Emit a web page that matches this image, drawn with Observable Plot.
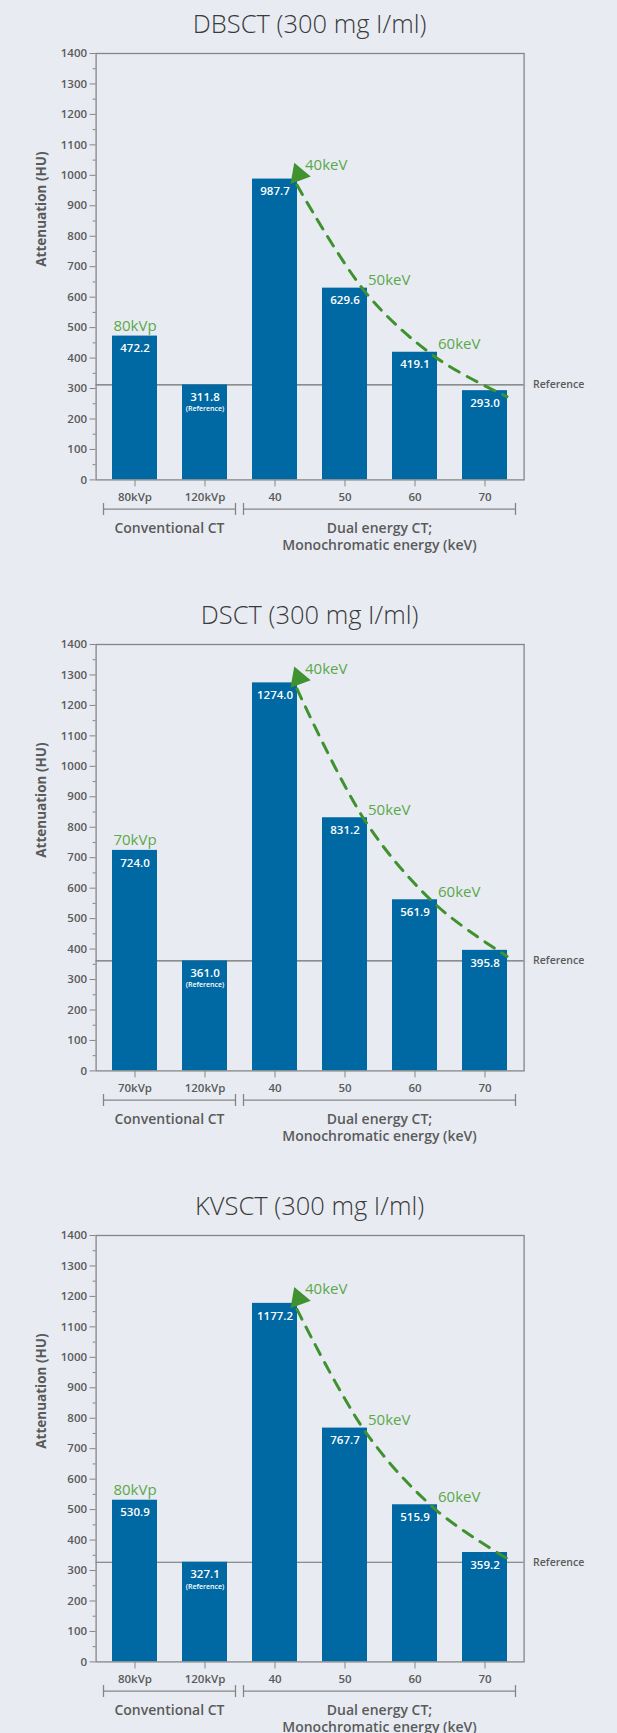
<!DOCTYPE html>
<html>
<head>
<meta charset="utf-8">
<script src="https://cdn.jsdelivr.net/npm/d3@7"></script>
<script src="https://cdn.jsdelivr.net/npm/@observablehq/plot@0.6"></script>
<style>
  html, body { margin: 0; padding: 0; background: #e8ecf2; }
  body { width: 617px; font-family: "Open Sans", "DejaVu Sans", sans-serif; }
  .chart { height: 591px; position: relative; }
  .chart h2 {
    margin: 0 0 0 95.6px; width: 428px; height: 40px; line-height: 46px;
    text-align: center; white-space: nowrap; overflow: visible;
    font-size: 25.5px; font-weight: 300; color: #3a3a3a;
  }
  .chart svg { display: block; }
</style>
</head>
<body>
<div id="charts"></div>
<script>
// Scanner comparison: iodine 300 mg I/ml, attenuation in HU
const titles = ["DBSCT (300 mg I/ml)", "DSCT (300 mg I/ml)", "KVSCT (300 mg I/ml)"];
const lowKvp = ["80kVp", "70kVp", "80kVp"];
const refKvp = "120kVp";
const conventionalValues = [
  [472.2, 311.8],
  [724.0, 361.0],
  [530.9, 327.1]
];
const keVLevels = ["40", "50", "60", "70"];
const keVValues = [
  [987.7, 629.6, 419.1, 293.0],
  [1274.0, 831.2, 561.9, 395.8],
  [1177.2, 767.7, 515.9, 359.2]
];
const yTicks = [0, 100, 200, 300, 400, 500, 600, 700, 800, 900, 1000, 1100, 1200, 1300, 1400];
const yMinorTicks = yTicks.slice(0, -1).map(v => v + 50);
const groupLabels = [["Conventional CT"], ["Dual energy CT;", "Monochromatic energy (keV)"]];
const yLabel = "Attenuation (HU)";
const refLabel = "Reference";

const BLUE = "#0068a2";
const GREEN_LINE = "#3f922f";
const GREEN_TEXT = "#5aa84a";
const GRAY = "#5a5a5a";
const AXIS = "#858585";

function drawChart(k) {
  const conv = [lowKvp[k], refKvp];
  const cats = [...conv, ...keVLevels];
  const rows = cats.map((c, i) => ({cat: c, value: i < 2 ? conventionalValues[k][i] : keVValues[k][i - 2]}));
  const keVRows = rows.slice(2);
  const refRow = rows[1];
  const groups = [{cats: conv, label: groupLabels[0]}, {cats: keVLevels, label: groupLabels[1]}];

  // group brackets under the x axis, placed from the band scale
  const brackets = (index, scales, values, dimensions) => {
    const xs = scales.x;
    const bw = typeof xs.bandwidth === "function" ? xs.bandwidth() : 0;
    const cx = c => xs(c) + bw / 2;
    const step = cx(cats[1]) - cx(cats[0]);
    const half = step / 2 - 4;
    const y0 = dimensions.height - dimensions.marginBottom;
    const g = d3.create("svg:g");
    for (const grp of groups) {
      const a = cx(grp.cats[0]) - half;
      const b = cx(grp.cats[grp.cats.length - 1]) + half;
      const yb = y0 + 29.7;
      g.append("path")
        .attr("d", `M${a},${yb - 6}V${yb + 6}M${a},${yb}H${b}M${b},${yb - 6}V${yb + 6}`)
        .attr("fill", "none").attr("stroke", AXIS).attr("stroke-width", 1.3);
      const mid = (cx(grp.cats[0]) + cx(grp.cats[grp.cats.length - 1])) / 2;
      grp.label.forEach((t, i) => {
        g.append("text")
          .attr("x", mid).attr("y", yb + 18.5 + i * 17)
          .attr("dy", "0.35em")
          .attr("text-anchor", "middle")
          .attr("fill", GRAY)
          .attr("font-size", 14).attr("font-weight", 600)
          .text(t);
      });
    }
    return g.node();
  };

  const plot = Plot.plot({
    width: 617,
    height: 520,
    marginTop: 13,
    marginBottom: 80.6,
    marginLeft: 95.6,
    marginRight: 93.4,
    style: {fontFamily: "'Open Sans', sans-serif", fontSize: "11px", fontWeight: 600, color: GRAY, background: "transparent", overflow: "visible"},
    x: {type: "band", domain: cats, paddingInner: 0.36, paddingOuter: 0.22, label: null},
    y: {domain: [0, 1400], label: null},
    marks: [
      Plot.ruleY([refRow.value], {stroke: "#6e6e6e", strokeWidth: 1.2}),
      Plot.barY(rows, {x: "cat", y: "value", fill: BLUE}),
      Plot.frame({stroke: AXIS, strokeWidth: 1.3}),
      Plot.axisY({ticks: yMinorTicks, tickSize: 3, tickFormat: () => "", stroke: AXIS}),
      Plot.axisY({ticks: yTicks, tickSize: 6, tickPadding: 3, tickFormat: d => String(d), stroke: AXIS, fill: GRAY, fontSize: 11.5, label: null}),
      Plot.axisX({tickSize: 7, tickPadding: 6, stroke: AXIS, fill: GRAY, fontSize: 11.5, label: null}),
      Plot.text([yLabel], {frameAnchor: "left", dx: -54, rotate: -90, fontSize: 13.5, fontWeight: 700, fill: GRAY}),
      Plot.text(rows, {x: "cat", y: "value", text: d => d.value.toFixed(1), dy: 12.5, fill: "white", fontSize: 11.5, fontWeight: 600}),
      Plot.text([refRow], {x: "cat", y: "value", text: () => "(Reference)", dy: 24, fill: "white", fontSize: 7, fontWeight: 600}),
      Plot.text([refRow.value], {y: d => d, frameAnchor: "right", textAnchor: "start", dx: 9, text: () => refLabel, fill: GRAY, fontSize: 10.5, fontWeight: 600}),
      Plot.line(keVRows, {x: "cat", y: "value", dx: 22, dy: 6, curve: "catmull-rom", stroke: GREEN_LINE, strokeWidth: 3, strokeDasharray: "11,9"}),
      Plot.dot(keVRows.slice(0, 1), {x: "cat", y: "value", dx: 23.5, dy: -4.7, symbol: "triangle", r: 8, fill: GREEN_LINE, stroke: "none", rotate: -20}),
      Plot.text(keVRows.slice(0, 1), {x: "cat", y: "value", text: d => d.cat + "keV", dx: 30, dy: -14, textAnchor: "start", fill: GREEN_TEXT, fontSize: 15, fontWeight: 400}),
      Plot.text(keVRows.slice(1, 3), {x: "cat", y: "value", text: d => d.cat + "keV", dx: 23, dy: -8, textAnchor: "start", fill: GREEN_TEXT, fontSize: 15, fontWeight: 400}),
      Plot.text(rows.slice(0, 1), {x: "cat", y: "value", text: () => lowKvp[k], dy: -10, fill: GREEN_TEXT, fontSize: 15, fontWeight: 400}),
      brackets
    ]
  });

  const div = document.createElement("div");
  div.className = "chart";
  const h = document.createElement("h2");
  h.textContent = titles[k];
  div.appendChild(h);
  div.appendChild(plot);
  document.getElementById("charts").appendChild(div);
}

titles.forEach((_, k) => drawChart(k));
</script>
</body>
</html>
